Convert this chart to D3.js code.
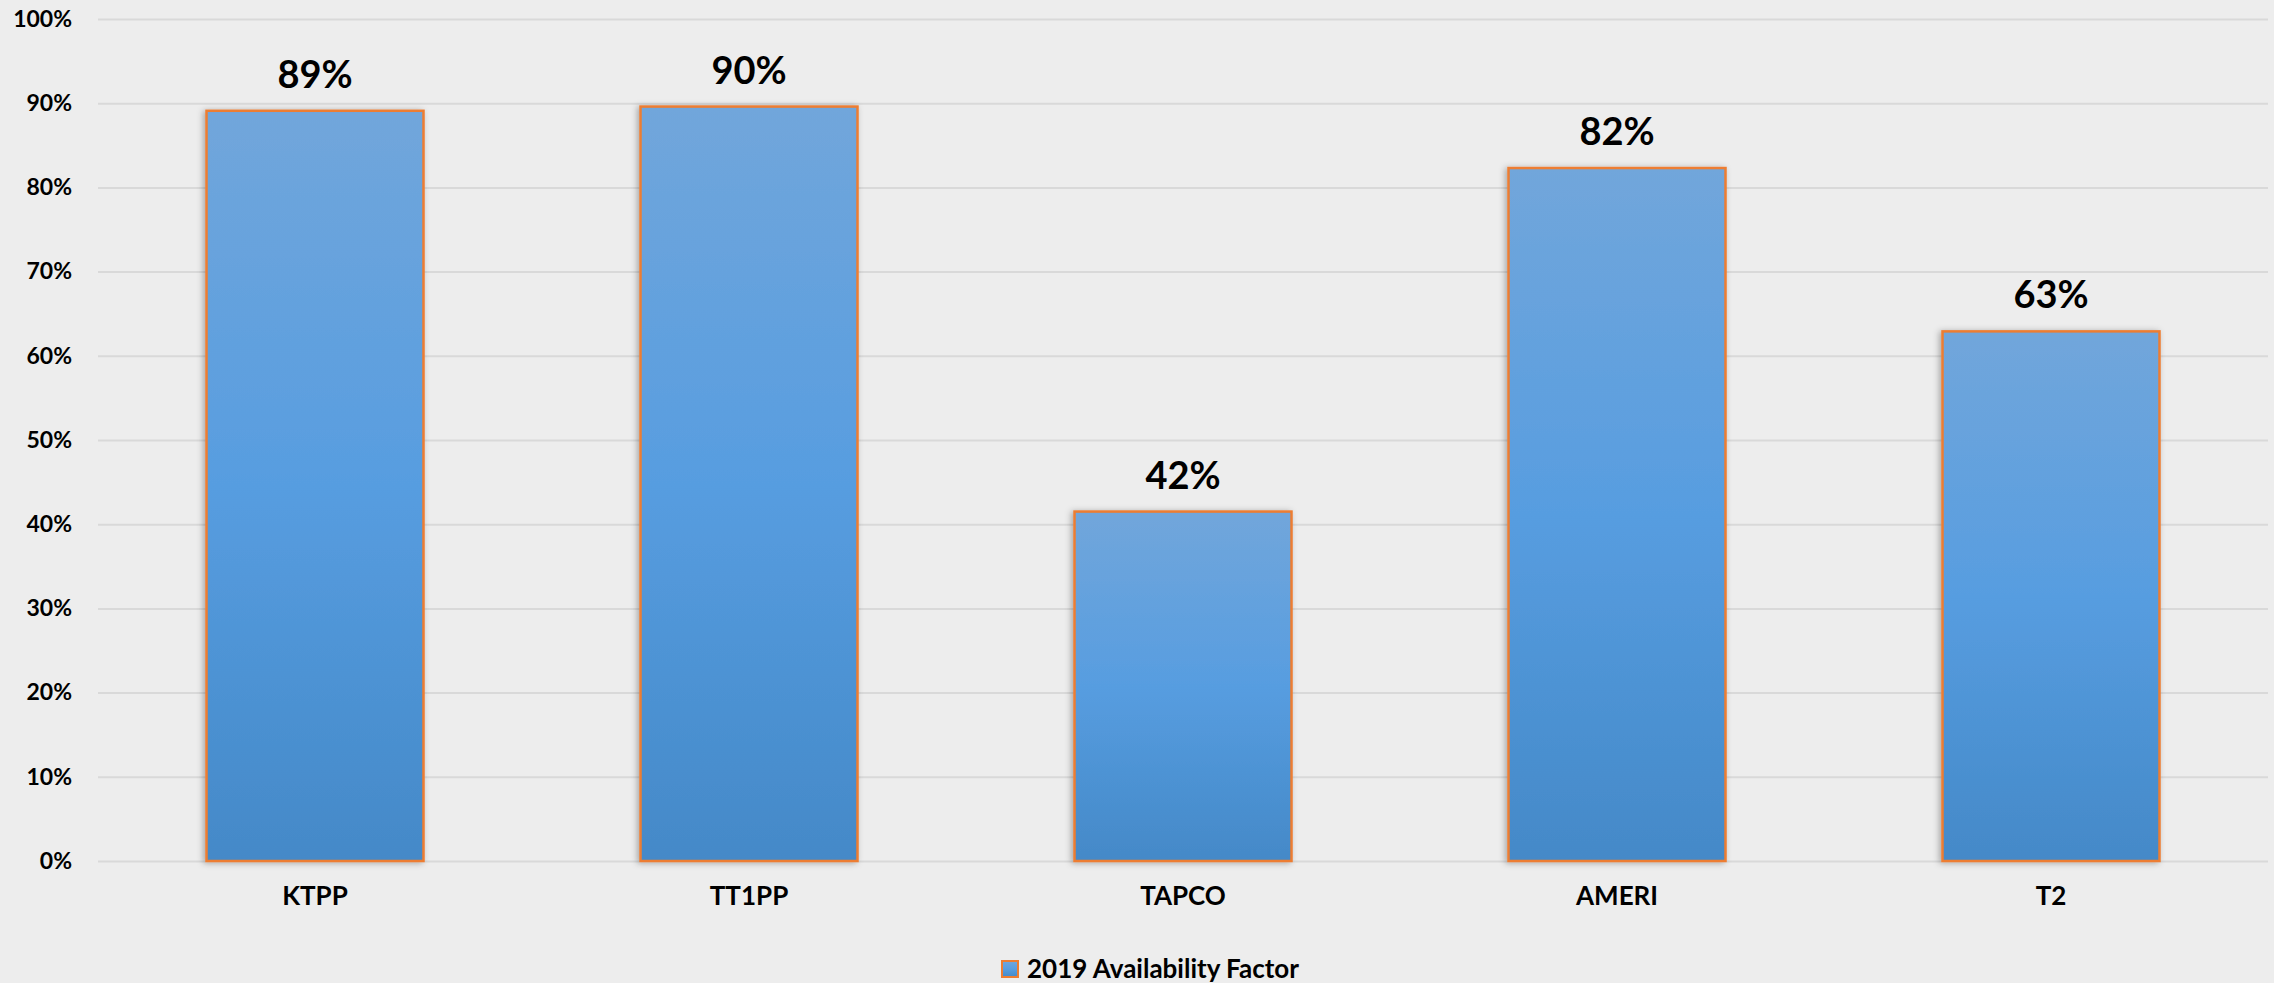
<!DOCTYPE html>
<html>
<head>
<meta charset="utf-8">
<script src="https://cdn.jsdelivr.net/npm/d3@7"></script>
<style>
  body { margin: 0; background: #ededed; }
  svg { display: block; }
  svg text { font-family: Lato, "Open Sans", sans-serif; }
</style>
</head>
<body>
<svg id="chart"></svg>
<script>
// chart data
const categories = ["KTPP", "TT1PP", "TAPCO", "AMERI", "T2"];
const values = [0.891, 0.896, 0.415, 0.823, 0.629];
const labels = ["89%", "90%", "42%", "82%", "63%"];
const yTicks = [0, 0.1, 0.2, 0.3, 0.4, 0.5, 0.6, 0.7, 0.8, 0.9, 1.0];
const seriesName = "2019 Availability Factor";

const width = 2274, height = 983;
const margin = { left: 98, right: 6, top: 19, bottom: 122 };
const font = "Lato, 'Open Sans', sans-serif";

const svg = d3.select("#chart")
    .attr("width", width)
    .attr("height", height);

svg.append("rect")
    .attr("width", width)
    .attr("height", height)
    .attr("fill", "#ededed");

const defs = svg.append("defs");
const grad = defs.append("linearGradient")
    .attr("id", "barGrad")
    .attr("x1", "0%").attr("y1", "0%")
    .attr("x2", "0%").attr("y2", "100%");
grad.append("stop").attr("offset", "0%").attr("stop-color", "#71a6db");
grad.append("stop").attr("offset", "50%").attr("stop-color", "#579de0");
grad.append("stop").attr("offset", "100%").attr("stop-color", "#4489c8");

const shadow = defs.append("filter")
    .attr("id", "shadow")
    .attr("x", "-10%").attr("y", "-10%")
    .attr("width", "120%").attr("height", "120%");
shadow.append("feDropShadow")
    .attr("dx", -2).attr("dy", 1)
    .attr("stdDeviation", 3)
    .attr("flood-color", "#000")
    .attr("flood-opacity", 0.3);

const x = d3.scaleBand()
    .domain(categories)
    .range([margin.left, width - margin.right])
    .paddingInner(0.5)
    .paddingOuter(0.25);

const y = d3.scaleLinear()
    .domain([0, 1])
    .range([height - margin.bottom, margin.top]);

// gridlines + y labels
const yAxis = svg.append("g")
    .attr("transform", `translate(${margin.left},0)`)
    .call(d3.axisLeft(y)
        .tickValues(yTicks)
        .tickFormat(d3.format(".0%"))
        .tickSize(-(width - margin.left - margin.right))
        .tickPadding(26))
    .attr("font-family", font);
yAxis.select(".domain").remove();
yAxis.selectAll(".tick line")
    .attr("stroke", "#d9d9d9")
    .attr("stroke-width", 2);
yAxis.selectAll(".tick text")
    .attr("fill", "#000")
    .style("font-size", "23px")
    .style("font-weight", "bold");

// bars
svg.selectAll("rect.bar")
    .data(values)
    .enter().append("rect")
    .attr("class", "bar")
    .attr("x", (d, i) => x(categories[i]))
    .attr("width", x.bandwidth())
    .attr("y", d => y(d))
    .attr("height", d => y(0) - y(d))
    .attr("fill", "url(#barGrad)")
    .attr("stroke", "#ed7d31")
    .attr("stroke-width", 2.5)
    .attr("filter", "url(#shadow)");

// value labels
svg.selectAll("text.val")
    .data(values)
    .enter().append("text")
    .attr("class", "val")
    .attr("x", (d, i) => x(categories[i]) + x.bandwidth() / 2)
    .attr("y", d => y(d) - 23)
    .attr("text-anchor", "middle")
    .style("font-size", "38px")
    .style("font-weight", "bold")
    .attr("fill", "#000")
    .text((d, i) => labels[i]);

// x axis
const xAxis = svg.append("g")
    .attr("transform", `translate(0,${y(0)})`)
    .call(d3.axisBottom(x).tickSize(0).tickPadding(26))
    .attr("font-family", font);
xAxis.select(".domain").remove();
xAxis.selectAll(".tick text")
    .attr("fill", "#000")
    .style("font-size", "26px")
    .style("font-weight", "bold");

// legend
const legend = svg.append("g")
    .attr("transform", "translate(1002,961)");
legend.append("rect")
    .attr("width", 16)
    .attr("height", 16)
    .attr("fill", "url(#barGrad)")
    .attr("stroke", "#ed7d31")
    .attr("stroke-width", 2);
legend.append("text")
    .attr("x", 25)
    .attr("y", 17)
    .style("font-size", "26px")
    .style("font-weight", "bold")
    .attr("fill", "#000")
    .text(seriesName);
</script>
</body>
</html>
